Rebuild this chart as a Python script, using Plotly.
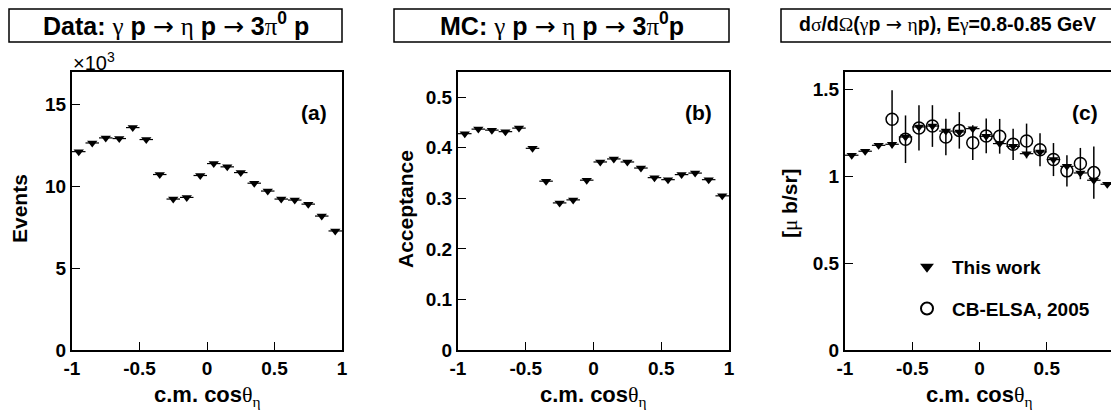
import plotly.graph_objects as go

# ---------------- data ----------------
cos_bins = [-0.95, -0.85, -0.75, -0.65, -0.55, -0.45, -0.35, -0.25, -0.15, -0.05,
            0.05, 0.15, 0.25, 0.35, 0.45, 0.55, 0.65, 0.75, 0.85, 0.95]
bin_half_width = [0.05] * 20

events = [12130, 12660, 12970, 12930, 13600, 12870, 10730, 9230, 9330, 10670,
          11400, 11200, 10850, 10200, 9720, 9230, 9170, 8920, 8190, 7280]

acceptance = [0.428, 0.437, 0.435, 0.432, 0.439, 0.399, 0.334, 0.291, 0.297, 0.336,
              0.372, 0.378, 0.372, 0.360, 0.341, 0.337, 0.347, 0.350, 0.337, 0.305]

xsec_this = [1.121, 1.144, 1.178, 1.184, 1.226, 1.284, 1.289, 1.260, 1.255, 1.274,
             1.230, 1.188, 1.172, 1.130, 1.140, 1.096, 1.057, 1.019, 0.977, 0.954]

elsa_x = [-0.65, -0.55, -0.45, -0.35, -0.25, -0.15, -0.05, 0.05,
          0.15, 0.25, 0.35, 0.45, 0.55, 0.65, 0.75, 0.85]
elsa_y = [1.328, 1.213, 1.278, 1.289, 1.226, 1.264, 1.193, 1.232,
          1.230, 1.184, 1.203, 1.153, 1.096, 1.031, 1.073, 1.021]
elsa_err = [0.167, 0.137, 0.130, 0.120, 0.105, 0.105, 0.100, 0.100,
            0.100, 0.090, 0.100, 0.095, 0.095, 0.090, 0.090, 0.150]

x_tickvals = [-1, -0.5, 0, 0.5, 1]
x_ticktext = ["-1", "-0.5", "0", "0.5", "1"]
a_tickvals = [0, 5000, 10000, 15000]
a_ticktext = ["0", "5", "10", "15"]
b_tickvals = [0, 0.1, 0.2, 0.3, 0.4, 0.5]
b_ticktext = ["0", "0.1", "0.2", "0.3", "0.4", "0.5"]
c_tickvals = [0, 0.5, 1, 1.5]
c_ticktext = ["0", "0.5", "1", "1.5"]

# ---------------- layout helpers ----------------
# page body has an 8px margin: the figure starts at (8, 8) in the window
OFF = 8
W, H = 1119 - OFF, 418 - OFF
FONT = "Liberation Sans, Arial, Helvetica, sans-serif"
GREEK = "font-family:'Liberation Serif', 'DejaVu Serif', serif;font-weight:normal"
ARROW = "font-family:'DejaVu Sans', sans-serif;font-weight:normal"


def px(x):
    return (x - OFF) / W


def py(y):
    return 1 - (y - OFF) / H


def g(ch):
    return f"<span style=\"{GREEK}\">{ch}</span>"


def arr():
    return f"<span style=\"{ARROW}\">→</span>"


plot_top, plot_bot = 72, 350
panels = [(72, 342), (458, 729), (845, 1114)]

fig = go.Figure()

marker_tri = dict(symbol="triangle-down", size=9, color="black", line=dict(width=0))
errx = dict(type="data", array=bin_half_width, width=0, thickness=1.2, color="black")

fig.add_trace(go.Scatter(x=cos_bins, y=events, mode="markers", marker=marker_tri,
                         error_x=errx, showlegend=False, xaxis="x", yaxis="y"))
fig.add_trace(go.Scatter(x=cos_bins, y=acceptance, mode="markers", marker=marker_tri,
                         error_x=errx, showlegend=False, xaxis="x2", yaxis="y2"))
fig.add_trace(go.Scatter(x=cos_bins, y=xsec_this, mode="markers", marker=marker_tri,
                         error_x=errx, name="This work", legendgroup="g1",
                         xaxis="x3", yaxis="y3"))
fig.add_trace(go.Scatter(x=elsa_x, y=elsa_y, mode="markers",
                         marker=dict(symbol="circle-open", size=12, color="black",
                                     line=dict(width=1.5, color="black")),
                         error_y=dict(type="data", array=elsa_err, width=0,
                                      thickness=1.5, color="black"),
                         name="CB-ELSA, 2005", legendgroup="g2",
                         xaxis="x3", yaxis="y3"))

tickfont = dict(family=FONT, size=19, color="black", weight="bold")


def xaxis_def(i):
    x0, x1 = panels[i]
    return dict(domain=[px(x0), px(x1)], range=[-1, 1], anchor=["y", "y2", "y3"][i],
                showline=True, linecolor="black", linewidth=2, mirror=True,
                ticks="inside", ticklen=8, tickwidth=1.2, tickcolor="black",
                tickmode="array", tickvals=x_tickvals, ticktext=x_ticktext,
                tickfont=tickfont, showgrid=False, zeroline=False, fixedrange=True,
                automargin=False)


def yaxis_def(i, rng, tv, tt):
    return dict(domain=[py(plot_bot), py(plot_top)], range=rng,
                anchor=["x", "x2", "x3"][i],
                showline=True, linecolor="black", linewidth=2, mirror=True,
                ticks="inside", ticklen=8, tickwidth=1.2, tickcolor="black",
                tickmode="array", tickvals=tv, ticktext=tt,
                tickfont=tickfont, showgrid=False, zeroline=False, fixedrange=True,
                automargin=False)


shapes = []
annotations = []

# title boxes
box_top, box_bot = 9, 42
boxes = [
    (9, 342, f"<b>Data:</b> {g('γ')} <b>p</b> {arr()} {g('η')} <b>p</b> {arr()} <b>3</b>{g('π')}<sup><b>0</b></sup> <b>p</b>", 25),
    (394, 729, f"<b>MC:</b> {g('γ')} <b>p</b> {arr()} {g('η')} <b>p</b> {arr()} <b>3</b>{g('π')}<sup><b>0</b></sup><b>p</b>", 25),
    (781, 1114, f"<b>d</b>{g('σ')}<b>/d</b>{g('Ω')}<b>(</b>{g('γ')}<b>p</b> {arr()} {g('η')}<b>p), E</b>{g('γ')}<b>=0.8-0.85 GeV</b>", 19.5),
]
for x0, x1, txt, fs in boxes:
    shapes.append(dict(type="rect", xref="paper", yref="paper",
                       x0=px(x0), x1=px(x1), y0=py(box_bot), y1=py(box_top),
                       line=dict(color="black", width=1.5)))
    annotations.append(dict(xref="paper", yref="paper", x=px((x0 + x1) / 2), y=py(24),
                            xanchor="center", yanchor="middle", showarrow=False,
                            text=txt, font=dict(family=FONT, size=fs, color="black")))

# x axis titles
for x0, x1 in panels:
    annotations.append(dict(xref="paper", yref="paper", x=px((x0 + x1) / 2), y=py(396),
                            xanchor="center", yanchor="middle", showarrow=False,
                            text=f"<b>c.m. cos</b>{g('θ')}<sub>{g('η')}</sub>",
                            font=dict(family=FONT, size=22, color="black")))

# y axis titles
for xc, yc, txt in [(19, 209, "<b>Events</b>"), (405, 209, "<b>Acceptance</b>"),
                    (790, 203, f"<b>[</b>{g('μ')}<b> b/sr]</b>")]:
    annotations.append(dict(xref="paper", yref="paper", x=px(xc), y=py(yc),
                            xanchor="center", yanchor="middle", showarrow=False,
                            textangle=-90, text=txt,
                            font=dict(family=FONT, size=21, color="black")))

# panel labels
for xr, lab in [(329, "(a)"), (714, "(b)"), (1100, "(c)")]:
    annotations.append(dict(xref="paper", yref="paper", x=px(xr), y=py(112),
                            xanchor="right", yanchor="middle", showarrow=False,
                            text=f"<b>{lab}</b>",
                            font=dict(family=FONT, size=21, color="black")))

# x10^3 multiplier
annotations.append(dict(xref="paper", yref="paper", x=px(71), y=py(61),
                        xanchor="left", yanchor="middle", showarrow=False,
                        text="×10<sup>3</sup>",
                        font=dict(family=FONT, size=20, color="black")))

fig.update_layout(
    width=W, height=H,
    margin=dict(l=0, r=0, t=0, b=0, autoexpand=False),
    paper_bgcolor="white", plot_bgcolor="white",
    font=dict(family=FONT, color="black"),
    xaxis=xaxis_def(0), xaxis2=xaxis_def(1), xaxis3=xaxis_def(2),
    yaxis=yaxis_def(0, [0, 17000], a_tickvals, a_ticktext),
    yaxis2=yaxis_def(1, [0, 0.55], b_tickvals, b_ticktext),
    yaxis3=yaxis_def(2, [0, 1.6], c_tickvals, c_ticktext),
    shapes=shapes, annotations=annotations,
    legend=dict(x=px(902), y=py(248), xanchor="left", yanchor="top",
                bgcolor="rgba(0,0,0,0)", borderwidth=0,
                font=dict(family=FONT, size=19, color="black", weight="bold"),
                itemsizing="constant", itemwidth=40,
                tracegroupgap=14, traceorder="grouped"),
)

fig.write_html("out.html")
